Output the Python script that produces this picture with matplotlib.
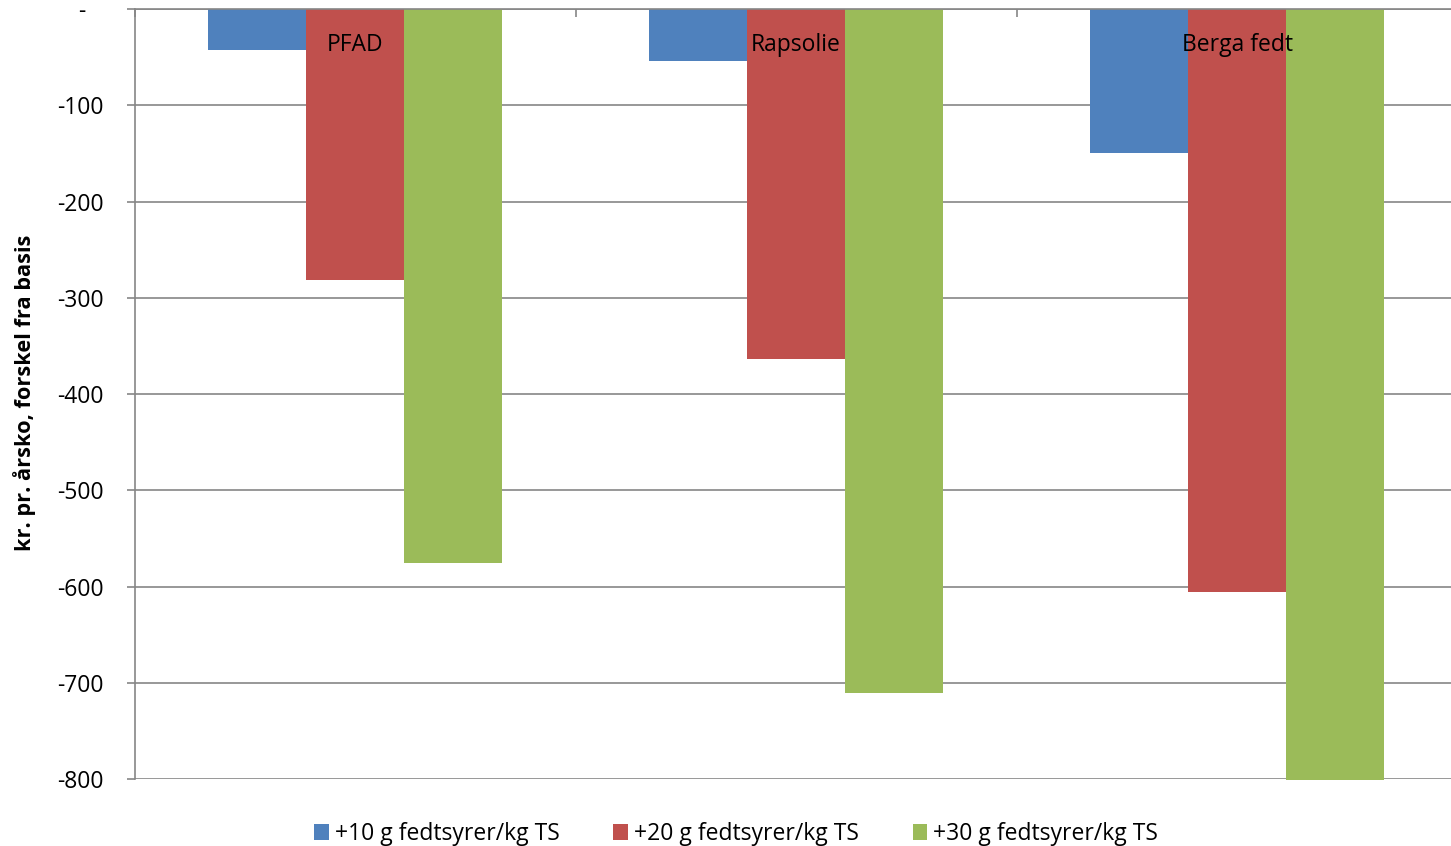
import matplotlib
matplotlib.use("Agg")
import matplotlib.pyplot as plt
import numpy as np
from matplotlib.patches import Patch

categories = ["PFAD", "Rapsolie", "Berga fedt"]
series_names = ["+10 g fedtsyrer/kg TS", "+20 g fedtsyrer/kg TS", "+30 g fedtsyrer/kg TS"]
s10 = [-43, -54, -150]
s20 = [-282, -364, -606]
s30 = [-576, -711, -801]
colors = ["#4F81BD", "#C0504D", "#9BBB59"]
yticks = [0, -100, -200, -300, -400, -500, -600, -700, -800]
ytick_labels = ["-   ", "-100", "-200", "-300", "-400", "-500", "-600", "-700", "-800"]
ylabel = "kr. pr. årsko, forskel fra basis"

plt.rcParams['font.family'] = ['Open Sans', 'DejaVu Sans']
FS = 16.5

W, H = 1451, 846
fig = plt.figure(figsize=(W/100, H/100), dpi=100)
left = 134.5 / W
right_px = 1457.5
ax = fig.add_axes([left, (H-779)/H, (right_px-134.5)/W, (779-9)/H])

x = np.arange(len(categories))
bw = 98/441
for k, (vals, c) in enumerate(zip([s10, s20, s30], colors)):
    ax.bar(x + (k-1)*bw, vals, width=bw, color=c, zorder=3, clip_on=False)

ax.set_xlim(-0.5, 2.5)
ax.set_ylim(-800, 0)
ax.set_yticks(yticks)
ax.set_yticklabels(ytick_labels, fontsize=FS)
ax.tick_params(axis='y', length=6, color='#868686', width=1.2, pad=16)
ax.yaxis.grid(True, color='#868686', linewidth=1.2, zorder=0)
ax.set_axisbelow(True)

ax.xaxis.tick_top()
ax.set_xticks([])
ax.set_xticks([-0.5, 0.5, 1.5, 2.5], minor=True)
ax.tick_params(axis='x', which='minor', direction='in', length=6, color='#868686', width=1.2)

for s in ['right', 'bottom']:
    ax.spines[s].set_visible(False)
for s in ['left', 'top']:
    ax.spines[s].set_color('#868686')
    ax.spines[s].set_linewidth(1.2)
ax.spines['top'].set_zorder(4)

for i, cat in enumerate(categories):
    ax.text(i, -37, cat, ha='center', va='center', fontsize=FS, zorder=5)

fig.text(25/W, 1 - 393/H, ylabel, rotation=90, ha='center', va='center',
         fontsize=15.7, fontweight='bold')

handles = [Patch(facecolor=c, edgecolor='none') for c in colors]
fig.legend(handles, series_names, loc='center', bbox_to_anchor=(736/W, 1 - 834/H),
           ncol=3, frameon=False, fontsize=FS, handlelength=0.65, handleheight=0.65,
           handletextpad=0.25, columnspacing=2.35)

fig.savefig("out.png", dpi=100)
